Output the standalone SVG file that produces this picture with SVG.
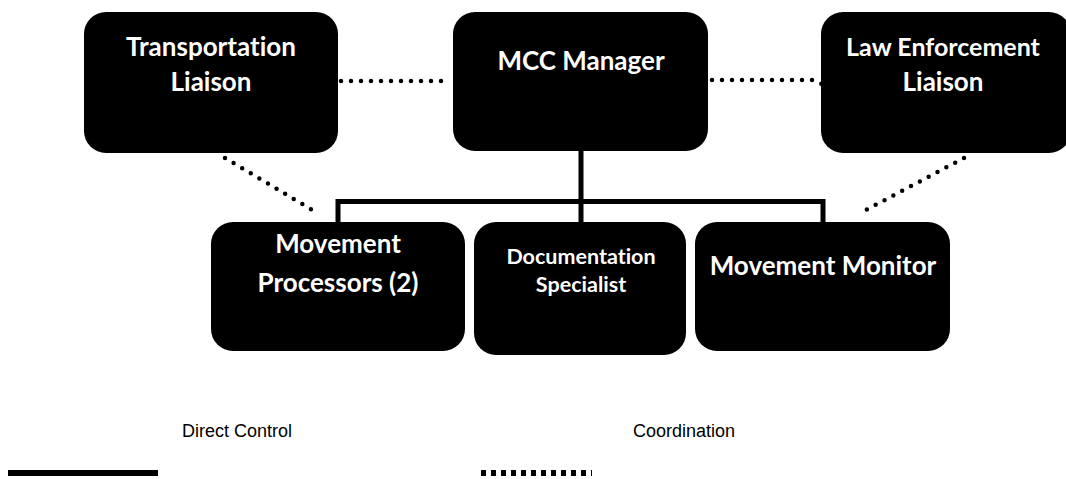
<svg xmlns="http://www.w3.org/2000/svg" width="1066" height="479" viewBox="0 0 1066 479">
<style>
.box{fill:#000;}
.t{font-family:Lato,"Open Sans",sans-serif;font-weight:bold;fill:#fff;text-anchor:middle;font-size:26px;font-variant-ligatures:none;}
.s{font-size:21.5px;}
.solid{stroke:#000;stroke-width:5;fill:none;}
.dot{stroke:#000;stroke-width:4.5;stroke-linecap:round;stroke-dasharray:0 10;fill:none;}
.leg{font-family:"Liberation Sans",Arial,sans-serif;font-size:18px;fill:#000;text-anchor:middle;}
</style>
<rect width="1066" height="479" fill="#fff"/>
<g id="connectors">
<path class="solid" d="M581,150 V222 M338,222 V201.5 H823 V222"/>
<path class="dot" d="M341,81 H449"/>
<path class="dot" d="M712,80 H812 L822,84"/>
<path class="dot" d="M225,158 L319,214"/>
<path class="dot" d="M964,158 L866,210"/>
</g>
<g id="transportation-liaison">
<rect class="box" x="84" y="12" width="254" height="141" rx="22"/>
<text class="t" x="211" y="56">Transportation</text>
<text class="t" x="211" y="91">Liaison</text>
</g>
<g id="mcc-manager">
<rect class="box" x="453" y="12" width="255" height="139" rx="22"/>
<text class="t" x="581" y="70">MCC Manager</text>
</g>
<g id="law-enforcement-liaison">
<rect class="box" x="821" y="12" width="250" height="141" rx="22"/>
<text class="t" x="943" y="56" style="font-size:25px">Law Enforcement</text>
<text class="t" x="943" y="91">Liaison</text>
</g>
<g id="movement-processors">
<rect class="box" x="211" y="222" width="254" height="129" rx="22"/>
<text class="t" x="338" y="253">Movement</text>
<text class="t" x="338" y="292">Processors (2)</text>
</g>
<g id="documentation-specialist">
<rect class="box" x="474" y="222" width="212" height="133" rx="22"/>
<text class="t s" x="581" y="264">Documentation</text>
<text class="t s" x="581" y="292">Specialist</text>
</g>
<g id="movement-monitor">
<rect class="box" x="695" y="222" width="255" height="129" rx="22"/>
<text class="t" x="823" y="275">Movement Monitor</text>
</g>
<g id="legend">
<text class="leg" x="237" y="437">Direct Control</text>
<text class="leg" x="684" y="437">Coordination</text>
<line x1="8" y1="473" x2="158" y2="473" stroke="#000" stroke-width="6"/>
<line x1="481" y1="473" x2="592" y2="473" stroke="#000" stroke-width="6" stroke-dasharray="5 5"/>
</g>
</svg>
